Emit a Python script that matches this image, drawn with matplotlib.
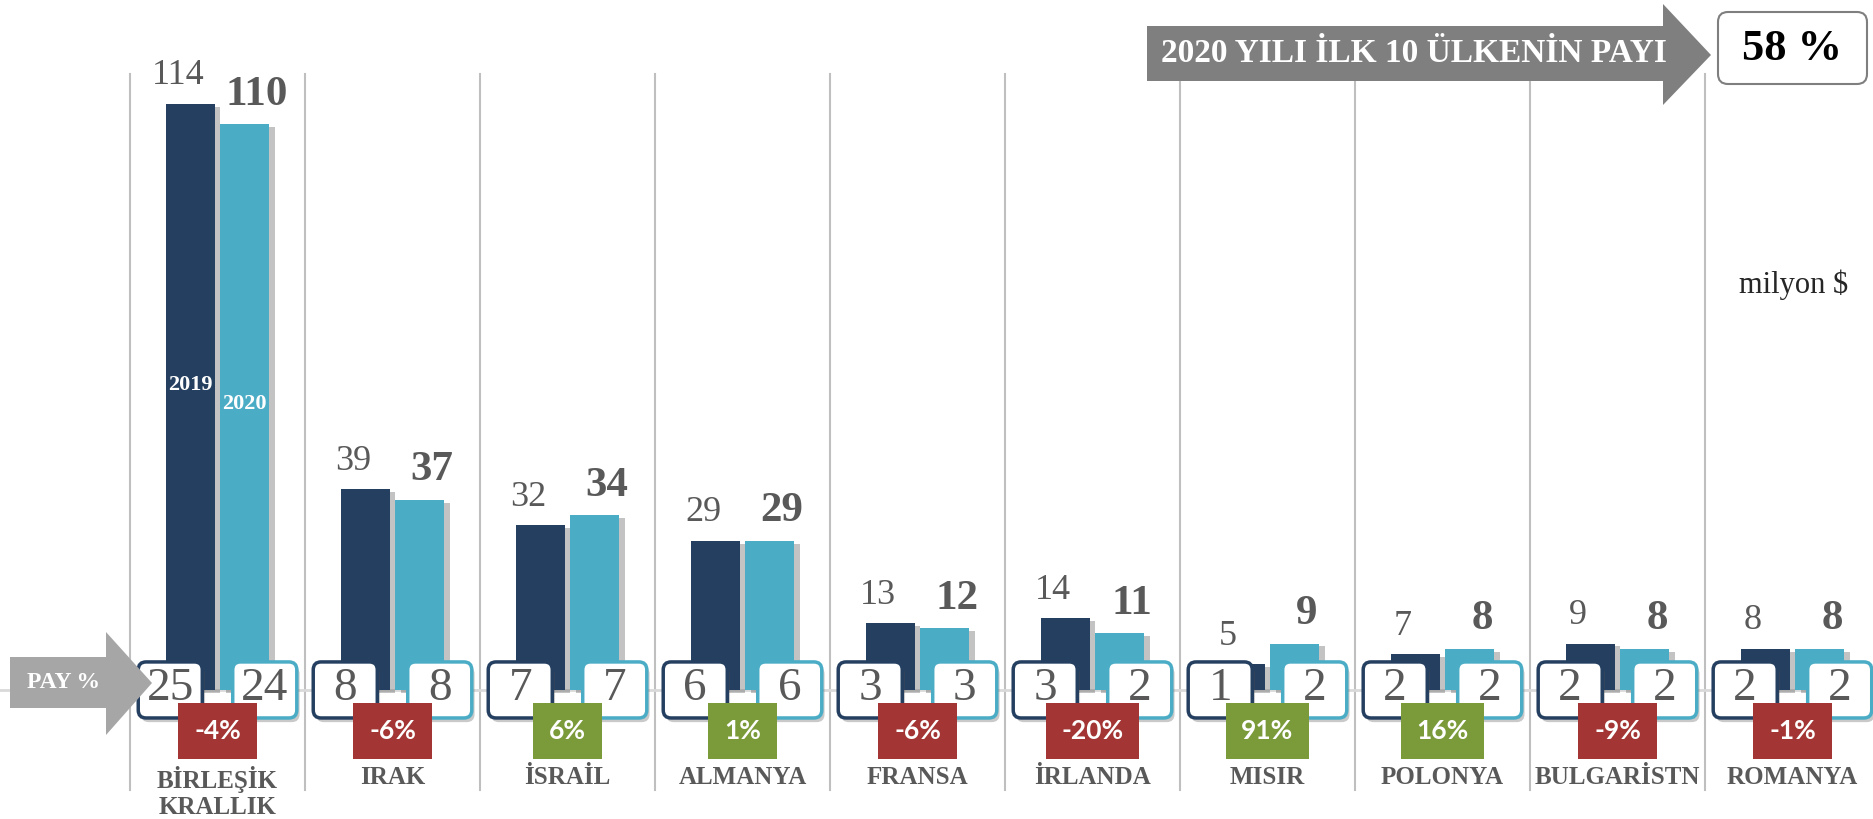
import matplotlib
matplotlib.use('Agg')
from matplotlib import pyplot as plt
from matplotlib.patches import FancyBboxPatch, Polygon
import matplotlib.patheffects as pe
import numpy as np

plt.rcParams['font.family'] = ['Liberation Serif', 'DejaVu Serif']

# data
categories = ['BİRLEŞİK\nKRALLIK', 'IRAK', 'İSRAİL', 'ALMANYA', 'FRANSA', 'İRLANDA',
              'MISIR', 'POLONYA', 'BULGARİSTN', 'ROMANYA']
val_2019 = [114, 39, 32, 29, 13, 14, 5, 7, 9, 8]
val_2020 = [110, 37, 34, 29, 12, 11, 9, 8, 8, 8]
pay_2019 = [25, 8, 7, 6, 3, 3, 1, 2, 2, 2]
pay_2020 = [24, 8, 7, 6, 3, 2, 2, 2, 2, 2]
change = [-4, -6, 6, 1, -6, -20, 91, 16, -9, -1]
top10_share = 58

NAVY = '#243F60'
TEAL = '#4BACC6'
GRAY_TXT = '#595959'
RED = '#A33634'
GREEN = '#7B9B3B'

W, H = 1874, 819
fig = plt.figure(figsize=(W / 100, H / 100), dpi=100)

# main axes: x in category units, y in million $
ax = fig.add_axes([0, 0, 1, 1])
ax.set_xlim(-1.243, 9.466)
ax.set_ylim(-25.1, 134.2)
ax.axis('off')
aspect = 175 / 5.14  # px per x-unit / px per y-unit

x = np.arange(len(categories))
bw = 0.28
off = 0.155

# separators and baseline
for i in x:
    ax.plot([i - 0.5, i - 0.5], [-19.5, 119.8], color='#BFBFBF', lw=1.5, zorder=0)
ax.axhline(0, color='#D9D9D9', lw=2, zorder=1)

shadow = [pe.SimplePatchShadow(offset=(4, -2), alpha=0.35, shadow_rgbFace='#555555'), pe.Normal()]
b1 = ax.bar(x - off, val_2019, width=bw, color=NAVY, zorder=2)
b2 = ax.bar(x + off, val_2020, width=bw, color=TEAL, zorder=2)
for b in list(b1) + list(b2):
    b.set_path_effects(shadow)

# value labels
for i in x:
    ax.annotate(str(val_2019[i]), (i - off - 0.07, val_2019[i]), xytext=(0, 14),
                textcoords='offset points', ha='center', va='baseline',
                fontsize=26, color=GRAY_TXT)
    ax.annotate(str(val_2020[i]), (i + off + 0.07, val_2020[i]), xytext=(0, 14),
                textcoords='offset points', ha='center', va='baseline',
                fontsize=31, fontweight='bold', color=GRAY_TXT)

# year labels in first bars
ax.text(0 - off, val_2019[0] * 0.52, '2019', ha='center', va='center', color='white',
        fontsize=16, fontweight='bold', zorder=3)
ax.text(0 + off, val_2020[0] * 0.505, '2020', ha='center', va='center', color='white',
        fontsize=16, fontweight='bold', zorder=3)

# share boxes
bx_w, bx_h = 0.366, 10.9
box_shadow = [pe.SimplePatchShadow(offset=(2, -3), alpha=0.3), pe.Normal()]
for i in x:
    for dx, val, ec in ((-0.27, pay_2019[i], NAVY), (0.27, pay_2020[i], TEAL)):
        cx = i + dx
        p = FancyBboxPatch((cx - bx_w / 2, -bx_h / 2), bx_w, bx_h,
                           boxstyle='round,pad=0,rounding_size=0.045',
                           mutation_aspect=aspect, fc='white', ec=ec, lw=2.5, zorder=3)
        p.set_path_effects(box_shadow)
        ax.add_patch(p)
        ax.text(cx, 0.2, str(val), ha='center', va='center', fontsize=34,
                color=GRAY_TXT, zorder=4)

# change badges
for i in x:
    c = change[i]
    ax.text(i, -8.0, f'{c}%', ha='center', va='center', fontsize=19,
            fontweight='bold', color='white', family=['Lato', 'DejaVu Sans'], zorder=5,
            bbox=dict(boxstyle='square,pad=0.6', fc=RED if c < 0 else GREEN, ec='none'))

# category names
for i in x:
    ax.text(i, -14.8, categories[i], ha='center', va='top', fontsize=18,
            fontweight='bold', color=GRAY_TXT, linespacing=1.15)

# decorations in pixel space
deco = fig.add_axes([0, 0, 1, 1])
deco.set_xlim(0, W)
deco.set_ylim(H, 0)
deco.axis('off')

deco.add_patch(Polygon([(10, 657), (106, 657), (106, 632), (152, 683), (106, 735),
                        (106, 708), (10, 708)], closed=True, fc='#A6A6A6', ec='none'))
deco.text(64, 683, 'PAY %', ha='center', va='center', color='white', fontsize=17,
          fontweight='bold')

deco.add_patch(Polygon([(1147, 26), (1663, 26), (1663, 4), (1711, 55), (1663, 105),
                        (1663, 81), (1147, 81)], closed=True, fc='#7F7F7F', ec='none'))
deco.text(1414, 54, '2020 YILI İLK 10 ÜLKENİN PAYI', ha='center', va='center',
          color='white', fontsize=24, fontweight='bold')

deco.add_patch(FancyBboxPatch((1718, 12), 149, 72, boxstyle='round,pad=0,rounding_size=10',
                              fc='white', ec='#7F7F7F', lw=1.5))
deco.text(1792, 49, f'{top10_share} %', ha='center', va='center', color='black',
          fontsize=32, fontweight='bold')

deco.text(1794, 285, 'milyon $', ha='center', va='center', color='#262626', fontsize=22)

fig.savefig('out.png', dpi=100)
